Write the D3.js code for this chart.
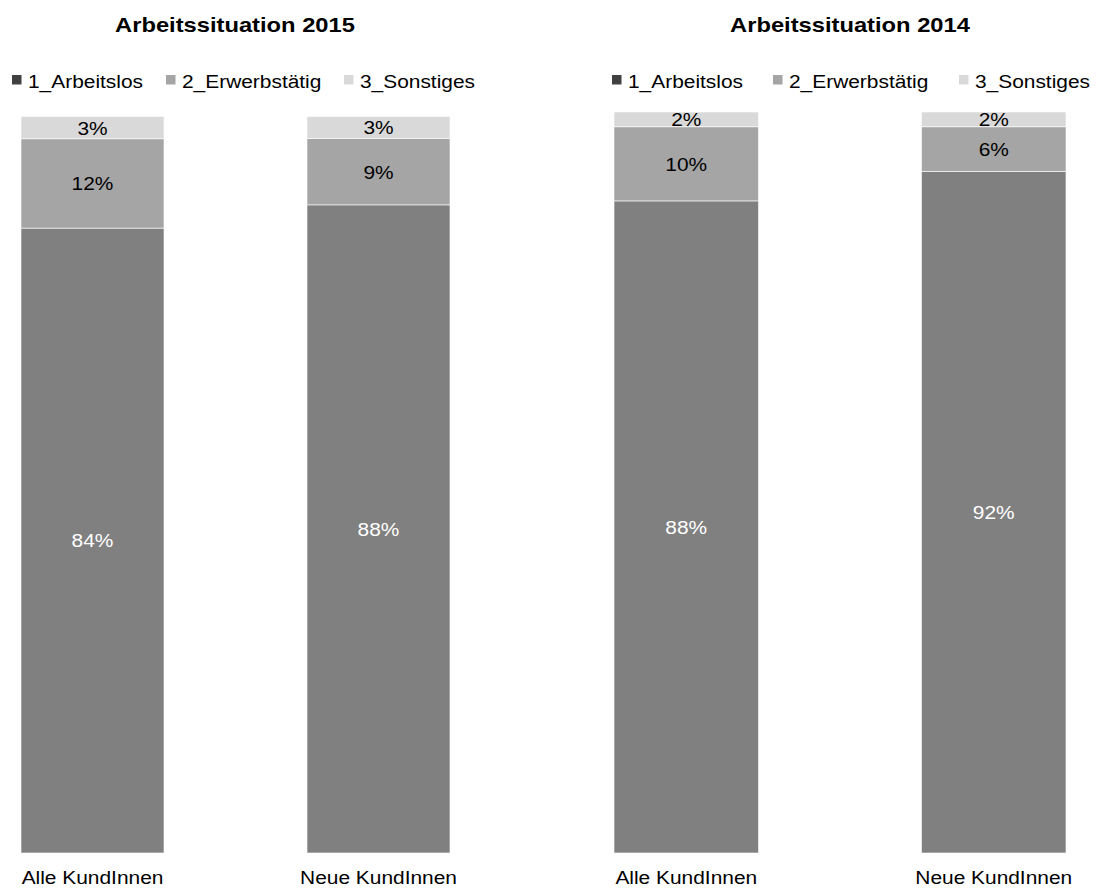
<!DOCTYPE html>
<html>
<head>
<meta charset="utf-8">
<script src="https://cdn.jsdelivr.net/npm/d3@7/dist/d3.min.js"></script>
<style>
  html, body { margin: 0; padding: 0; background: #fff; }
  svg { display: block; font-family: Arial, "Liberation Sans", sans-serif; }
</style>
</head>
<body>
<svg id="chart" width="1096" height="889"></svg>
<script>
// Customer groups (x categories) and status series
const categories = ["Alle KundInnen", "Neue KundInnen"];
const seriesNames = ["1_Arbeitslos", "2_Erwerbstätig", "3_Sonstiges"];

// Shares in percent, 2015
const arbeitslos2015 = [84, 88];
const erwerbstaetig2015 = [12, 9];
const sonstiges2015 = [3, 3];

// Shares in percent, 2014
const arbeitslos2014 = [88, 92];
const erwerbstaetig2014 = [10, 6];
const sonstiges2014 = [2, 2];

const panelTitles = ["Arbeitssituation 2015", "Arbeitssituation 2014"];

const seriesColors = ["#808080", "#a5a5a5", "#d9d9d9"];
const legendColors = ["#404040", "#a5a5a5", "#d9d9d9"];
const labelColors = ["#ffffff", "#000000", "#000000"];

// Text is set slightly wide, as in the original office rendering
const FONT = 19;
const WIDEN = 1.1;

function rows(a, e, s) {
  return categories.map((c, i) => ({
    cat: c,
    [seriesNames[0]]: a[i],
    [seriesNames[1]]: e[i],
    [seriesNames[2]]: s[i]
  }));
}

const panels = [
  {
    title: panelTitles[0],
    data: rows(arbeitslos2015, erwerbstaetig2015, sonstiges2015),
    xRange: [21, 450], padding: 0.5,
    yRange: [853, 116.5],
    titleX: 235,
    legendX: [12, 166, 344]
  },
  {
    title: panelTitles[1],
    data: rows(arbeitslos2014, erwerbstaetig2014, sonstiges2014),
    xRange: [614, 1066], padding: 0.53,
    yRange: [853, 112],
    titleX: 850,
    legendX: [612, 773, 959]
  }
];

const svg = d3.select("#chart");
const stack = d3.stack().keys(seriesNames).offset(d3.stackOffsetExpand);

panels.forEach(p => {
  const g = svg.append("g");
  const x = d3.scaleBand().domain(categories).range(p.xRange)
    .paddingInner(p.padding).paddingOuter(0);
  const y = d3.scaleLinear().domain([0, 1]).range(p.yRange);
  const stacked = stack(p.data);

  // Title
  g.append("text")
    .attr("transform", `translate(${p.titleX},32) scale(1.13,1)`)
    .attr("text-anchor", "middle")
    .attr("font-size", 21).attr("font-weight", "bold")
    .attr("fill", "#000")
    .text(p.title);

  // Legend
  seriesNames.forEach((name, i) => {
    const lg = g.append("g").attr("transform", `translate(${p.legendX[i]},0)`);
    lg.append("rect").attr("x", 0).attr("y", 75).attr("width", 9.5).attr("height", 9.5)
      .attr("fill", legendColors[i]);
    lg.append("text").attr("transform", `translate(16,87.5) scale(${WIDEN},1)`)
      .attr("font-size", FONT).attr("fill", "#000").text(name);
  });

  // Stacked bars with value labels
  stacked.forEach((layer, si) => {
    g.append("g").selectAll("rect").data(layer).join("rect")
      .attr("x", d => x(d.data.cat))
      .attr("width", x.bandwidth())
      .attr("y", d => y(d[1]))
      .attr("height", d => y(d[0]) - y(d[1]))
      .attr("fill", seriesColors[si])
      .attr("stroke", "#ffffff").attr("stroke-width", 0.6);

    g.append("g").selectAll("text").data(layer).join("text")
      .attr("transform", d =>
        `translate(${x(d.data.cat) + x.bandwidth() / 2},${(y(d[0]) + y(d[1])) / 2}) scale(${WIDEN},1)`)
      .attr("dy", "0.36em")
      .attr("text-anchor", "middle")
      .attr("font-size", FONT)
      .attr("fill", labelColors[si])
      .text(d => d.data[seriesNames[si]] + "%");
  });

  // Category axis labels
  const axis = d3.axisBottom(x).tickSize(0).tickPadding(0);
  const ax = g.append("g").attr("transform", `translate(0,${p.yRange[0]})`).call(axis);
  ax.select(".domain").remove();
  ax.selectAll("text")
    .attr("y", 31).attr("dy", 0)
    .attr("transform", `scale(${WIDEN},1)`)
    .attr("font-size", FONT).attr("fill", "#000")
    .attr("font-family", "Arial, 'Liberation Sans', sans-serif");
});
</script>
</body>
</html>
